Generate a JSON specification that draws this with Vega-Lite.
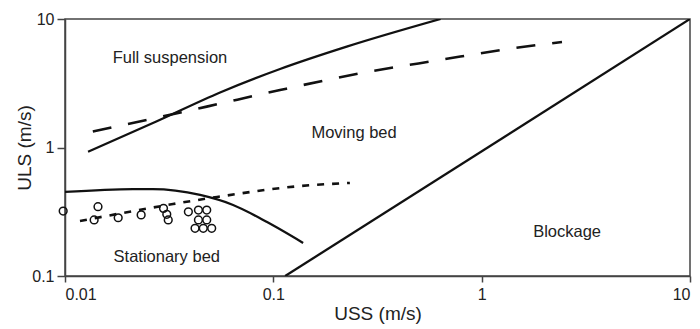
{
  "$schema": "https://vega.github.io/schema/vega-lite/v6.json",
  "width": 625,
  "height": 257,
  "autosize": {"type": "none"},
  "padding": {"left": 65, "top": 19, "right": 10, "bottom": 53},
  "background": "white",
  "config": {
    "view": {"stroke": "#444", "strokeWidth": 1.5},
    "font": "Liberation Sans"
  },
  "datasets": {
    "lines": [
      {"series": "suspension", "x": 0.0129, "y": 0.927},
      {"series": "suspension", "x": 0.0276, "y": 1.6},
      {"series": "suspension", "x": 0.0555, "y": 2.68},
      {"series": "suspension", "x": 0.1077, "y": 4.08},
      {"series": "suspension", "x": 0.225, "y": 6.09},
      {"series": "suspension", "x": 0.635, "y": 10},
      {"series": "blockage", "x": 0.114, "y": 0.1},
      {"series": "blockage", "x": 10, "y": 10},
      {"series": "stationary", "x": 0.01, "y": 0.451},
      {"series": "stationary", "x": 0.0212, "y": 0.475},
      {"series": "stationary", "x": 0.0264, "y": 0.475},
      {"series": "stationary", "x": 0.0445, "y": 0.427},
      {"series": "stationary", "x": 0.0641, "y": 0.357},
      {"series": "stationary", "x": 0.0933, "y": 0.263},
      {"series": "stationary", "x": 0.139, "y": 0.181}
    ],
    "dashed": [
      {"x": 0.0136, "y": 1.33},
      {"x": 0.0479, "y": 2.08},
      {"x": 0.1077, "y": 2.8},
      {"x": 0.27, "y": 3.82},
      {"x": 0.631, "y": 4.8},
      {"x": 1.415, "y": 5.92},
      {"x": 2.43, "y": 6.62}
    ],
    "dotted": [
      {"x": 0.0118, "y": 0.268},
      {"x": 0.033, "y": 0.363},
      {"x": 0.0537, "y": 0.412},
      {"x": 0.134, "y": 0.501},
      {"x": 0.233, "y": 0.53}
    ],
    "points": [
      {"x": 0.0098, "y": 0.32},
      {"x": 0.0144, "y": 0.346},
      {"x": 0.0138, "y": 0.273},
      {"x": 0.018, "y": 0.284},
      {"x": 0.0232, "y": 0.299},
      {"x": 0.0297, "y": 0.336},
      {"x": 0.0308, "y": 0.302},
      {"x": 0.0313, "y": 0.273},
      {"x": 0.0391, "y": 0.316},
      {"x": 0.0437, "y": 0.326},
      {"x": 0.0479, "y": 0.326},
      {"x": 0.0437, "y": 0.273},
      {"x": 0.0479, "y": 0.273},
      {"x": 0.0421, "y": 0.235},
      {"x": 0.0461, "y": 0.235},
      {"x": 0.0506, "y": 0.235}
    ],
    "labels": [
      {"x": 0.0319, "y": 4.97, "text": "Full suspension"},
      {"x": 0.244, "y": 1.3, "text": "Moving bed"},
      {"x": 0.0308, "y": 0.141, "text": "Stationary bed"},
      {"x": 2.57, "y": 0.22, "text": "Blockage"}
    ]
  },
  "encoding": {
    "x": {
      "field": "x", "type": "quantitative",
      "scale": {"type": "log", "domain": [0.01, 10], "nice": false},
      "axis": {
        "title": "USS (m/s)", "values": [0.01, 0.1, 1, 10], "format": "~g",
        "grid": false, "domainColor": "#444", "domainWidth": 1.5,
        "tickColor": "#444", "tickWidth": 1.5, "tickSize": 6,
        "labelFontSize": 16, "labelColor": "#222", "labelPadding": 4,
        "titleFontSize": 19, "titleFontWeight": "normal", "titleColor": "#222", "titlePadding": 2
      }
    },
    "y": {
      "field": "y", "type": "quantitative",
      "scale": {"type": "log", "domain": [0.1, 10], "nice": false},
      "axis": {
        "title": "ULS (m/s)", "values": [0.1, 1, 10], "format": "~g",
        "grid": false, "domainColor": "#444", "domainWidth": 1.5,
        "tickColor": "#444", "tickWidth": 1.5, "tickSize": 8,
        "labelFontSize": 16, "labelColor": "#222", "labelPadding": 3,
        "titleFontSize": 19, "titleFontWeight": "normal", "titleColor": "#222", "titlePadding": -3
      }
    }
  },
  "layer": [
    {
      "data": {"name": "lines"},
      "mark": {"type": "line", "color": "#111", "strokeWidth": 2.3, "interpolate": "monotone", "clip": true},
      "encoding": {"detail": {"field": "series"}}
    },
    {
      "data": {"name": "dashed"},
      "mark": {"type": "line", "color": "#111", "strokeWidth": 2.6, "strokeDash": [19, 17], "interpolate": "monotone"}
    },
    {
      "data": {"name": "dotted"},
      "mark": {"type": "line", "color": "#111", "strokeWidth": 2.6, "strokeDash": [7, 8], "interpolate": "monotone"}
    },
    {
      "data": {"name": "points"},
      "mark": {"type": "point", "filled": false, "color": "#111", "size": 60, "strokeWidth": 1.5, "opacity": 1}
    },
    {
      "data": {"name": "labels"},
      "mark": {"type": "text", "fontSize": 16.5, "color": "#222", "align": "center", "baseline": "middle"},
      "encoding": {"text": {"field": "text"}}
    }
  ]
}
